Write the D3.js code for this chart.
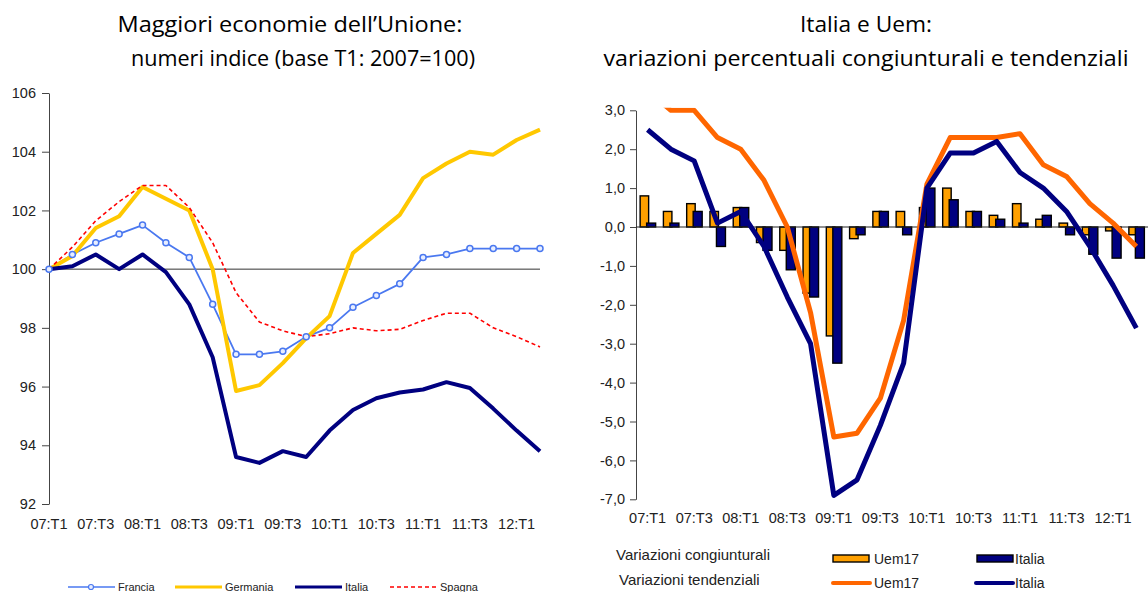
<html>
<head>
  <meta charset="utf-8">
  <title>Maggiori economie / Italia e Uem</title>
  <style>
    body { margin: 0; background: #fff; }
    svg text { font-family: "Liberation Sans", Arial, sans-serif; fill: #222; }
    svg .title { font-family: "Open Sans", sans-serif; font-size: 22px; fill: #000; }
  </style>
  <script src="https://cdn.jsdelivr.net/npm/d3@7"></script>
</head>
<body>
<svg id="chart" width="1148" height="592"></svg>
<script>
// quarters 07:T1 .. 12:T2
var quarters = ["07:T1","07:T2","07:T3","07:T4","08:T1","08:T2","08:T3","08:T4",
  "09:T1","09:T2","09:T3","09:T4","10:T1","10:T2","10:T3","10:T4",
  "11:T1","11:T2","11:T3","11:T4","12:T1","12:T2"];

// left panel: indici (base T1 2007 = 100)
var francia  = [100, 100.5, 100.9, 101.2, 101.5, 100.9, 100.4, 98.8, 97.1, 97.1, 97.2,
  97.7, 98.0, 98.7, 99.1, 99.5, 100.4, 100.5, 100.7, 100.7, 100.7, 100.7];
var germania = [100, 100.45, 101.4, 101.8, 102.8, 102.4, 102.0, 100.0, 95.85, 96.05, 96.8,
  97.65, 98.4, 100.55, 101.2, 101.85, 103.1, 103.6, 104.0, 103.9, 104.4, 104.75];
var italia   = [100, 100.1, 100.5, 100.0, 100.5, 99.9, 98.8, 97.0, 93.6, 93.4, 93.8,
  93.6, 94.5, 95.2, 95.6, 95.8, 95.9, 96.15, 95.95, 95.25, 94.5, 93.8];
var spagna   = [100, 100.75, 101.65, 102.3, 102.85, 102.85, 102.1, 100.9, 99.2, 98.2, 97.9,
  97.7, 97.8, 98.0, 97.9, 97.95, 98.25, 98.5, 98.5, 98.0, 97.7, 97.35];
var leftTicks = [92, 94, 96, 98, 100, 102, 104, 106];

// right panel: variazioni percentuali
var uemCong    = [0.8, 0.4, 0.6, 0.4, 0.5, -0.4, -0.6, -1.7, -2.8, -0.3, 0.4,
  0.4, 0.5, 1.0, 0.4, 0.3, 0.6, 0.2, 0.1, -0.2, -0.1, -0.2];
var italiaCong = [0.1, 0.1, 0.4, -0.5, 0.5, -0.6, -1.1, -1.8, -3.5, -0.2, 0.4,
  -0.2, 1.0, 0.7, 0.4, 0.2, 0.1, 0.3, -0.2, -0.7, -0.8, -0.8];
var uemTend    = [3.5, 3.0, 3.0, 2.3, 2.0, 1.2, 0.0, -2.2, -5.4, -5.3, -4.4,
  -2.4, 1.1, 2.3, 2.3, 2.3, 2.4, 1.6, 1.3, 0.6, 0.1, -0.5];
var italiaTend = [2.5, 2.0, 1.7, 0.1, 0.4, -0.5, -1.8, -3.0, -6.9, -6.5, -5.1,
  -3.5, 1.0, 1.9, 1.9, 2.2, 1.4, 1.0, 0.4, -0.5, -1.5, -2.6];
var rightTicks = [-7, -6, -5, -4, -3, -2, -1, 0, 1, 2, 3];

var svg = d3.select("#chart");
var tickLabels = quarters.filter(function(d, i) { return i % 2 == 0; });

function title(x, y, len, txt) {
  svg.append("text").attr("class", "title").attr("text-anchor", "middle")
    .attr("x", x).attr("y", y).attr("textLength", len).attr("lengthAdjust", "spacingAndGlyphs")
    .text(txt);
}

// ---------- left panel ----------
var xL = d3.scalePoint().domain(quarters).range([49, 540]);
var yL = d3.scaleLinear().domain([92, 106]).range([504, 93]);

title(290, 32, 345, "Maggiori economie dell\u2019Unione:");
title(303, 66, 344, "numeri indice (base T1: 2007=100)");

var axL = svg.append("g").attr("transform", "translate(49,0)")
  .call(d3.axisLeft(yL).tickValues(leftTicks).tickSize(7).tickSizeOuter(0).tickPadding(6));
axL.selectAll("text").style("font-size", "14.5px");
axL.selectAll("line, path").attr("stroke", "#444");

svg.append("line").attr("x1", 49).attr("x2", 540)
  .attr("y1", yL(100)).attr("y2", yL(100)).attr("stroke", "#333").attr("stroke-width", 1);

svg.append("g").selectAll("text").data(tickLabels).enter().append("text")
  .attr("x", function(d) { return xL(d); }).attr("y", 529)
  .attr("text-anchor", "middle").style("font-size", "14.5px").text(function(d) { return d; });

var lineL = d3.line().x(function(d, i) { return xL(quarters[i]); }).y(function(d) { return yL(d); });

var leftSeries = [
  { name: "Francia",  data: francia,  color: "#4a78f0", width: 1.8, dash: null },
  { name: "Germania", data: germania, color: "#ffc800", width: 4,   dash: null },
  { name: "Italia",   data: italia,   color: "#000080", width: 4,   dash: null },
  { name: "Spagna",   data: spagna,   color: "#ff0000", width: 1.6, dash: "4,3" }
];

leftSeries.forEach(function(s) {
  svg.append("path").datum(s.data).attr("d", lineL)
    .attr("fill", "none").attr("stroke", s.color).attr("stroke-width", s.width)
    .attr("stroke-linejoin", "round").attr("stroke-dasharray", s.dash);
});
// Francia markers on top
svg.append("g").selectAll("circle").data(francia).enter().append("circle")
  .attr("cx", function(d, i) { return xL(quarters[i]); })
  .attr("cy", function(d) { return yL(d); })
  .attr("r", 3).attr("fill", "#e8eeff").attr("stroke", "#4a78f0").attr("stroke-width", 1.5);

// left legend
var legL = svg.append("g");
var legPos = [68, 175, 295, 390];
leftSeries.forEach(function(s, i) {
  var x0 = legPos[i];
  legL.append("line").attr("x1", x0).attr("x2", x0 + 47).attr("y1", 587).attr("y2", 587)
    .attr("stroke", s.color).attr("stroke-width", s.width == 4 ? 3 : 1.6)
    .attr("stroke-dasharray", s.dash);
  if (s.name == "Francia") {
    legL.append("circle").attr("cx", x0 + 23).attr("cy", 587).attr("r", 2.5)
      .attr("fill", "#e8eeff").attr("stroke", s.color).attr("stroke-width", 1.2);
  }
  legL.append("text").attr("x", x0 + 50).attr("y", 591).style("font-size", "11px").text(s.name);
});

// ---------- right panel ----------
var xR = d3.scaleBand().domain(quarters).range([636, 1148]);
var yR = d3.scaleLinear().domain([-7, 3]).range([499.3, 110.3]);
var itFmt = d3.formatLocale({ decimal: ",", thousands: ".", grouping: [3], currency: ["", "\u20ac"] }).format(".1f");
var cx = function(i) { return xR(quarters[i]) + xR.bandwidth() / 2; };

title(866, 32, 132, "Italia e Uem:");
title(866, 66, 525, "variazioni percentuali congiunturali e tendenziali");

var axR = svg.append("g").attr("transform", "translate(636,0)")
  .call(d3.axisLeft(yR).tickValues(rightTicks).tickFormat(function(d) { return itFmt(d).replace("\u2212", "-"); })
    .tickSize(6).tickSizeOuter(0).tickPadding(5));
axR.selectAll("text").style("font-size", "14.5px");
axR.selectAll("line, path").attr("stroke", "#444");

svg.append("g").selectAll("text").data(tickLabels).enter().append("text")
  .attr("x", function(d) { return xR(d) + xR.bandwidth() / 2; }).attr("y", 523)
  .attr("text-anchor", "middle").style("font-size", "14.5px").text(function(d) { return d; });

// bars: Uem17 then Italia overlapping slightly
svg.append("g").selectAll("rect").data(uemCong).enter().append("rect")
  .attr("x", function(d, i) { return cx(i) - 7.5; }).attr("width", 8.5)
  .attr("y", function(d) { return yR(Math.max(0, d)); })
  .attr("height", function(d) { return Math.abs(yR(d) - yR(0)); })
  .attr("fill", "#ffa000").attr("stroke", "#000").attr("stroke-width", 1.4);
svg.append("g").selectAll("rect").data(italiaCong).enter().append("rect")
  .attr("x", function(d, i) { return cx(i) - 1; }).attr("width", 9)
  .attr("y", function(d) { return yR(Math.max(0, d)); })
  .attr("height", function(d) { return Math.abs(yR(d) - yR(0)); })
  .attr("fill", "#000080").attr("stroke", "#000").attr("stroke-width", 1.4);

svg.append("line").attr("x1", 636).attr("x2", 1148)
  .attr("y1", yR(0)).attr("y2", yR(0)).attr("stroke", "#222").attr("stroke-width", 1);

svg.append("clipPath").attr("id", "clipR").append("rect")
  .attr("x", 636).attr("y", yR(3) - 2.6).attr("width", 512).attr("height", 420);

var lineR = d3.line().x(function(d, i) { return cx(i); }).y(function(d) { return yR(d); });
svg.append("path").datum(uemTend).attr("d", lineR).attr("clip-path", "url(#clipR)")
  .attr("fill", "none").attr("stroke", "#ff6600").attr("stroke-width", 5).attr("stroke-linejoin", "round");
svg.append("path").datum(italiaTend).attr("d", lineR).attr("clip-path", "url(#clipR)")
  .attr("fill", "none").attr("stroke", "#000080").attr("stroke-width", 5).attr("stroke-linejoin", "round");

// right legend
var legR = svg.append("g");
legR.append("text").attr("x", 616).attr("y", 560).style("font-size", "15px").text("Variazioni congiunturali");
legR.append("text").attr("x", 619).attr("y", 585).style("font-size", "15px").text("Variazioni tendenziali");
legR.append("rect").attr("x", 833).attr("y", 555).attr("width", 36).attr("height", 7)
  .attr("fill", "#ffa000").attr("stroke", "#000").attr("stroke-width", 1.4);
legR.append("text").attr("x", 874).attr("y", 564).style("font-size", "14px").text("Uem17");
legR.append("rect").attr("x", 977).attr("y", 555).attr("width", 36).attr("height", 7)
  .attr("fill", "#000080").attr("stroke", "#000").attr("stroke-width", 1.4);
legR.append("text").attr("x", 1015).attr("y", 564).style("font-size", "14px").text("Italia");
legR.append("line").attr("x1", 833).attr("x2", 870).attr("y1", 583).attr("y2", 583)
  .attr("stroke", "#ff6600").attr("stroke-width", 4).attr("stroke-linecap", "round");
legR.append("text").attr("x", 874).attr("y", 588).style("font-size", "14px").text("Uem17");
legR.append("line").attr("x1", 976).attr("x2", 1013).attr("y1", 583).attr("y2", 583)
  .attr("stroke", "#000080").attr("stroke-width", 4).attr("stroke-linecap", "round");
legR.append("text").attr("x", 1015).attr("y", 588).style("font-size", "14px").text("Italia");
</script>
</body>
</html>
